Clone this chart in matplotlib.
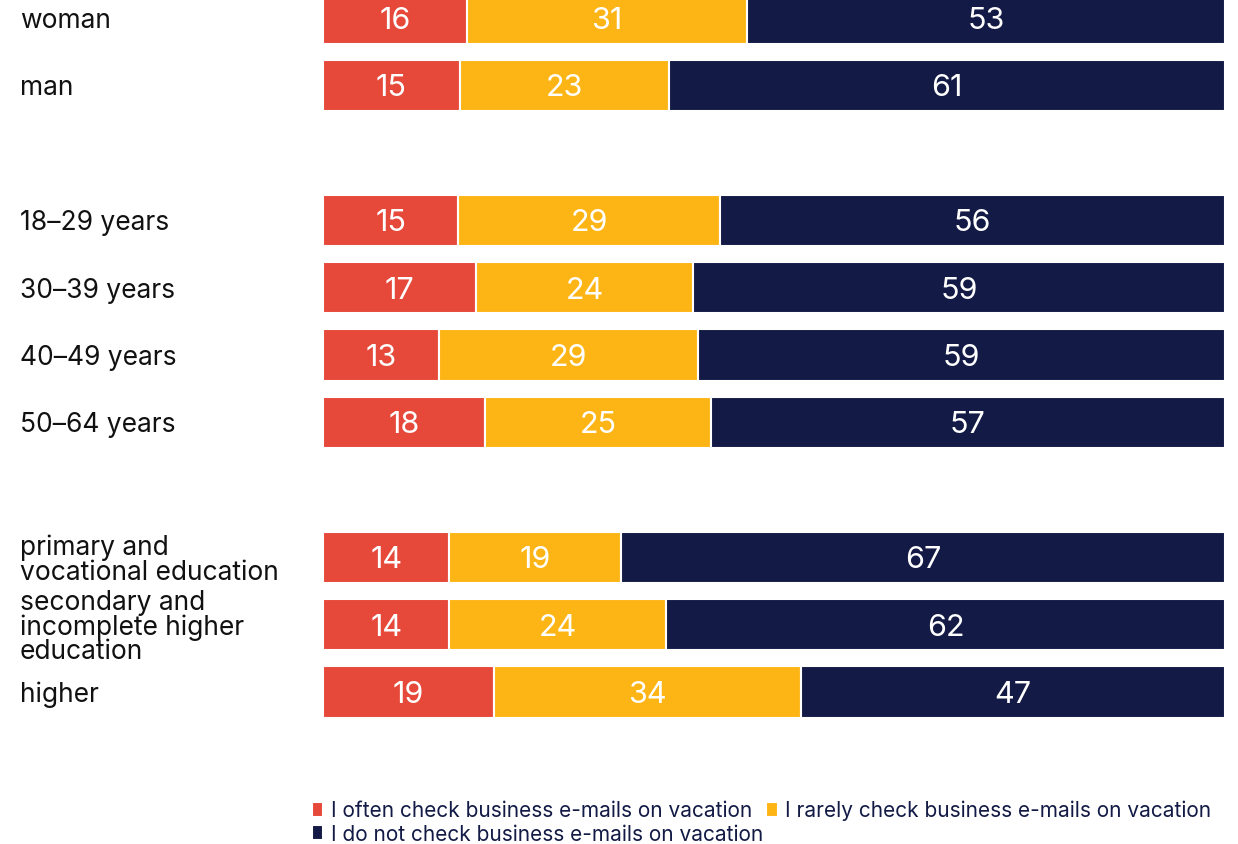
import matplotlib
matplotlib.use('Agg')
import matplotlib.pyplot as plt
import numpy as np

plt.rcParams['font.family'] = ['Inter', 'DejaVu Sans']

categories = ['woman', 'man',
              '18–29 years', '30–39 years', '40–49 years', '50–64 years',
              'primary and\nvocational education',
              'secondary and\nincomplete higher\neducation',
              'higher']
positions = [0, 1, 3, 4, 5, 6, 8, 9, 10]

often = [16, 15, 15, 17, 13, 18, 14, 14, 19]
rarely = [31, 23, 29, 24, 29, 25, 19, 24, 34]
never = [53, 61, 56, 59, 59, 57, 67, 62, 47]

series_names = ['I often check business e-mails on vacation',
                'I rarely check business e-mails on vacation',
                'I do not check business e-mails on vacation']
colors = ['#E6483A', '#FDB515', '#121A45']

data = np.array([often, rarely, never], dtype=float)
shares = data / data.sum(axis=0) * 100

fig = plt.figure(figsize=(12.38, 8.45), dpi=100)
ax = fig.add_axes([323 / 1238, 1 - 760 / 845, (1225 - 323) / 1238, 760 / 845])

left = np.zeros(len(categories))
bars = []
for i in range(3):
    b = ax.barh(positions, shares[i], left=left, height=0.76, color=colors[i],
                edgecolor='white', linewidth=1.5, label=series_names[i])
    bars.append(b)
    for p, l, w, v in zip(positions, left, shares[i], data[i]):
        ax.text(l + w / 2, p + 0.03, f'{int(v)}', ha='center', va='center',
                color='white', fontsize=22)
    left += shares[i]

ax.set_xlim(0, 100)
ax.set_ylim((760 - 19) / 67.4, -19 / 67.4)
ax.axis('off')

for p, c in zip(positions, categories):
    ax.text(-303 / 902 * 100, p + 0.03, c, ha='left', va='center', fontsize=19,
            color='#111111', linespacing=0.92)

# legend: order so that column-major fill gives items 1,2 on row 1 and 3 on row 2
handles = [bars[0], bars[2], bars[1]]
labels = [series_names[0], series_names[2], series_names[1]]
fig.legend(handles, labels, ncol=2, loc='upper left',
           bbox_to_anchor=(312 / 1238, 1 - 801 / 845), frameon=False,
           fontsize=15, labelcolor='#121A45', handlelength=0.55,
           handleheight=0.75, handletextpad=0.35, columnspacing=0.15,
           labelspacing=0.15, borderpad=0, borderaxespad=0)

plt.savefig('out.png', dpi=100)
